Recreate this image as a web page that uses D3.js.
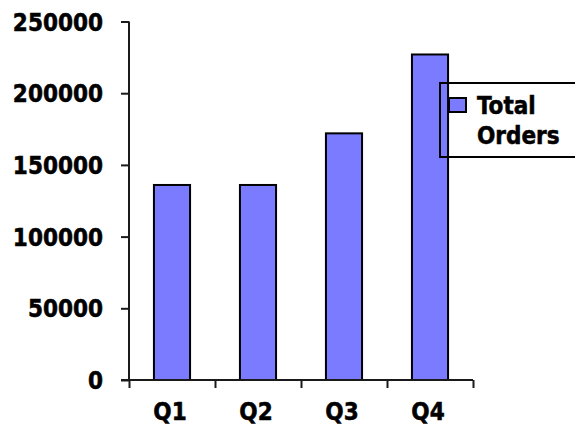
<!DOCTYPE html>
<html>
<head>
<meta charset="utf-8">
<script src="https://cdn.jsdelivr.net/npm/d3@7"></script>
<style>
  html, body { margin: 0; padding: 0; background: #fff; }
  svg { display: block; }
  text { font-family: "DejaVu Sans Condensed", "DejaVu Sans", sans-serif; font-weight: bold; font-size: 24px; fill: #000; stroke: #000; stroke-width: 0.5px; }
</style>
</head>
<body>
<svg id="chart" width="575" height="426"></svg>
<script>
// Quarterly order totals
const categories = ["Q1", "Q2", "Q3", "Q4"];
const totalOrders = [136000, 136000, 172000, 227000];
const yTicks = [0, 50000, 100000, 150000, 200000, 250000];
const seriesName = ["Total", "Orders"];

const svg = d3.select("#chart");
const plotLeft = 129, plotRight = 473, plotTop = 21.5, plotBottom = 380;
const barColor = "#7b7bff";
const lineColor = "#1a1a1a";

const y = d3.scaleLinear().domain([0, 250000]).range([plotBottom, plotTop]);
const x = d3.scaleBand().domain(categories).range([plotLeft, plotRight])
  .paddingInner(0.58).paddingOuter(0.29);
// category boundaries for the x-axis tick marks
const xEdges = d3.scaleLinear().domain([0, categories.length]).range([plotLeft, plotRight]);

// bars
svg.append("g").selectAll("rect").data(totalOrders).join("rect")
  .attr("x", (d, i) => x(categories[i]))
  .attr("y", d => y(d))
  .attr("width", x.bandwidth())
  .attr("height", d => plotBottom - y(d))
  .attr("fill", barColor)
  .attr("stroke", "#000")
  .attr("stroke-width", 2);

// y axis
const yAxis = svg.append("g").attr("transform", `translate(${plotLeft},0)`)
  .call(d3.axisLeft(y).tickValues(yTicks).tickSize(8).tickPadding(18).tickFormat(d3.format("d")));
yAxis.select(".domain").attr("d", `M0,${plotTop}V${plotBottom}`);
yAxis.selectAll("path, line").attr("stroke", lineColor).attr("stroke-width", 2);
yAxis.selectAll("text").attr("dy", "0.36em");

// x axis: ticks at category boundaries
const xAxis = svg.append("g").attr("transform", `translate(0,${plotBottom})`)
  .call(d3.axisBottom(xEdges).tickValues(d3.range(categories.length + 1)).tickSize(8).tickFormat(""));
xAxis.select(".domain").attr("d", `M${plotLeft - 8},0H${plotRight}`);
xAxis.selectAll("path, line").attr("stroke", lineColor).attr("stroke-width", 2);

// category labels
svg.append("g").selectAll("text").data(categories).join("text")
  .attr("x", d => x(d) + x.bandwidth() / 2 - 2)
  .attr("y", 420)
  .attr("text-anchor", "middle")
  .text(d => d);

svg.selectAll(".tick text").attr("fill", "#000");
svg.selectAll("g").attr("font-family", null).attr("font-size", null);

// legend
const legend = svg.append("g");
legend.append("rect")
  .attr("x", 440).attr("y", 83).attr("width", 160).attr("height", 74)
  .attr("fill", "none").attr("stroke", "#000").attr("stroke-width", 2);
legend.append("rect")
  .attr("x", 449).attr("y", 98).attr("width", 17).attr("height", 14)
  .attr("fill", barColor).attr("stroke", "#000").attr("stroke-width", 2);
legend.selectAll("text.lbl").data(seriesName).join("text")
  .attr("class", "lbl")
  .attr("x", 477)
  .attr("y", (d, i) => 114 + i * 30)
  .text(d => d);
</script>
</body>
</html>
